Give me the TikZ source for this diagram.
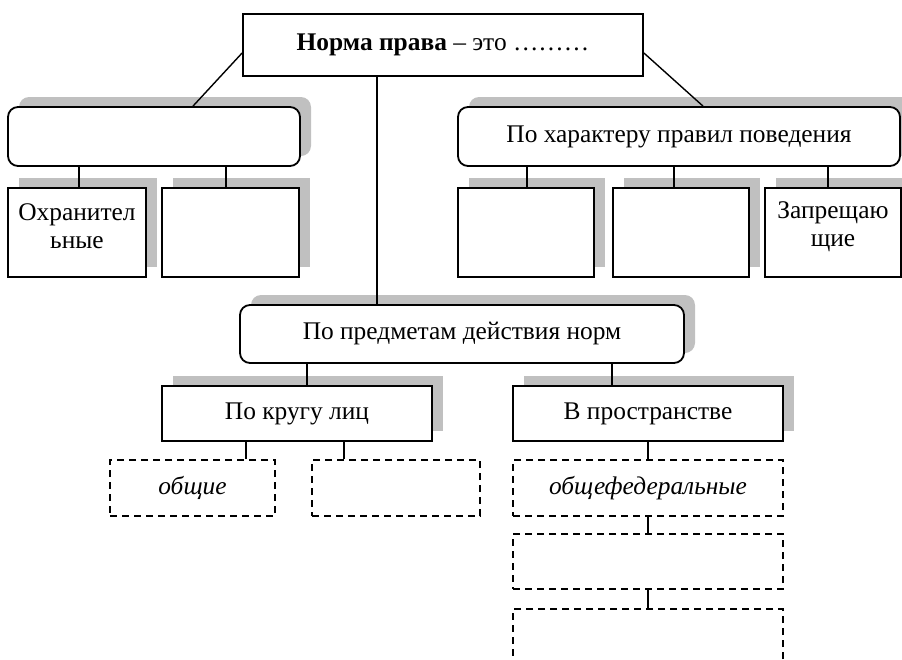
\documentclass[tikz,border=0pt]{standalone}
\usepackage{fontspec}
\setmainfont{Liberation Serif}
\usetikzlibrary{shadows}
\definecolor{shadowgray}{RGB}{192,192,192}
\newcommand{\boxfont}{\fontsize{12.7}{14}\selectfont}
\tikzset{
 box/.style={draw, line width=0.9pt, fill=white, inner sep=0pt, align=center,
   general shadow={fill=shadowgray, shadow xshift=5.5pt, shadow yshift=5pt}},
 rbox/.style={box, rounded corners=5pt},
 dbox/.style={draw, line width=0.9pt, dash pattern=on 3.5pt off 2.5pt, inner sep=0pt, align=center, font=\boxfont\itshape},
 link/.style={line width=0.7pt}
}

\begin{document}
\begin{tikzpicture}[x=0.5pt, y=-0.5pt, font=\boxfont]
\clip (0,0) rectangle (902,660);
\node[draw, line width=0.9pt, minimum width=200pt, minimum height=31pt] (norm) at (443,45) {\textbf{Норма права} – это ………};
% left branch
\node[rbox, minimum width=146pt, minimum height=29.5pt] (left) at (154,136.5) {};
\node[box, minimum width=69pt, minimum height=44.5pt, label={[align=center, yshift=3pt]center:Охранител\\ьные}] (left1) at (77,232.5) {};
\node[box, minimum width=68.5pt, minimum height=44.5pt] (left2) at (230.5,232.5) {};
% right branch
\node[rbox, minimum width=221pt, minimum height=29.5pt] (right) at (679,136.5) {По характеру правил поведения};
\node[box, minimum width=68pt, minimum height=44.5pt] (right1) at (526,232.5) {};
\node[box, minimum width=68pt, minimum height=44.5pt] (right2) at (681,232.5) {};
\node[box, minimum width=68pt, minimum height=44.5pt, label={[align=center, yshift=3pt]center:Запрещаю\\щие}] (right3) at (833,232.5) {};
% middle branch
\node[rbox, minimum width=222pt, minimum height=29pt] (subj) at (462,334) {По предметам действия норм};
\node[box, minimum width=135pt, minimum height=27.5pt] (circle) at (297,413.5) {По кругу лиц};
\node[box, minimum width=135pt, minimum height=27.5pt] (space) at (648,413.5) {В пространстве};
\node[dbox, minimum width=82.5pt, minimum height=28pt] (general) at (192.5,488) {общие};
\node[dbox, minimum width=84pt, minimum height=28pt] (circle2) at (396,488) {};
\node[dbox, minimum width=135pt, minimum height=28pt] (fed) at (648,488) {общефедеральные};
\node[dbox, minimum width=135pt, minimum height=27.5pt] (space2) at (648,561.5) {};
\node[dbox, minimum width=135pt, minimum height=28pt] (space3) at (648,637) {};
% connectors
\draw[link] ([yshift=-4pt]norm.west) -- ([xshift=19.5pt]left.north);
\draw[link] ([yshift=-4pt]norm.east) -- ([xshift=12pt]right.north);
\foreach \up/\down/\dx in {norm/subj/-42.5pt, left/left1/1pt, left/left2/-2.25pt,
  right/right1/0.5pt, right/right2/-3.5pt, right/right3/-2.5pt,
  subj/circle/5pt, subj/space/-18pt, circle/general/26.75pt, circle/circle2/-26pt,
  space/fed/0pt, fed/space2/0pt, space2/space3/0pt} {
 \coordinate (c) at ([xshift=\dx]\down.north);
 \draw[link] (c) -- (c |- \up.south);
}
\end{tikzpicture}
\end{document}
